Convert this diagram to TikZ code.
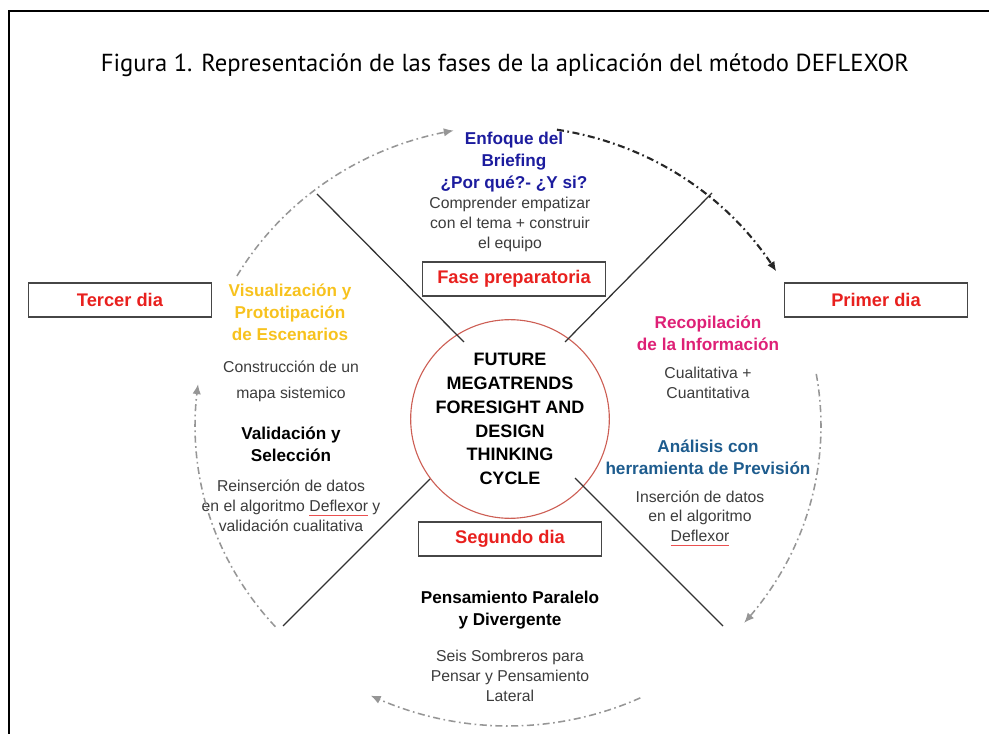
\documentclass[tikz,border=0pt]{standalone}
\usepackage{fontspec}
\setmainfont{Liberation Sans}
\newfontfamily\titlefont{PT Sans}
\usetikzlibrary{arrows.meta}
\definecolor{dayred}{RGB}{232,32,30}
\definecolor{boxgray}{RGB}{70,70,70}
\definecolor{linegray}{RGB}{50,50,50}
\definecolor{arcgray}{RGB}{150,150,150}
\definecolor{bodygray}{RGB}{60,60,60}
\definecolor{briefblue}{RGB}{28,28,158}
\definecolor{visyellow}{RGB}{247,194,30}
\definecolor{recopink}{RGB}{222,32,118}
\definecolor{analblue}{RGB}{30,92,142}
\definecolor{coreline}{RGB}{205,95,85}
\definecolor{spellred}{RGB}{235,80,80}
\newcommand{\spellmark}[1]{\setbox0\hbox{#1}\rlap{\color{spellred}\rule[-2.6pt]{\wd0}{0.6pt}}\box0\relax}
\begin{document}
\begin{tikzpicture}[x=0.025cm, y=-0.025cm,
		daybox/.style={draw=boxgray, line width=0.9pt, minimum width=4.575cm, minimum height=0.85cm, text=dayred, font=\fontsize{13}{15}\selectfont\bfseries},
		divider/.style={linegray, line width=0.9pt},
		cyclearc/.style={arcgray, line width=1.1pt, dash pattern=on 5pt off 2.5pt on 1.2pt off 2.5pt, -{Latex[length=7pt, width=6pt]}},
		body/.style={align=center, text=bodygray, font=\fontsize{11.2}{14.2}\selectfont, inner sep=0pt},
		head/.style={align=center, font=\fontsize{12.2}{15.6}\selectfont\bfseries, inner sep=0pt}]
	\useasboundingbox (0,0) rectangle (989,734);
	\draw[line width=1.3pt] (9,734) -- (9,11) -- (989,11);
	\node[font=\titlefont\fontsize{17.5}{20}\selectfont] (title) at (505,65) {Figura 1. Representación de las fases de la aplicación del método DEFLEXOR};
	% centre of the cycle
	\node[circle, draw=coreline, line width=0.8pt, minimum size=4.3cm, inner sep=0pt, align=center, font=\fontsize{12.8}{17}\selectfont\bfseries] (core) at (510,419) {FUTURE\\MEGATRENDS\\FORESIGHT AND\\DESIGN\\THINKING\\CYCLE};
	\coordinate (ulout) at (317,194);
	\coordinate (ulin) at (464,342);
	\coordinate (urout) at (712,193);
	\coordinate (urin) at (565,342);
	\coordinate (llout) at (283,626);
	\coordinate (llin) at (430,479);
	\coordinate (lrout) at (723,626);
	\coordinate (lrin) at (575,478);
	\draw[divider] (ulout) -- (ulin);
	\draw[divider] (urout) -- (urin);
	\draw[divider] (llout) -- (llin);
	\draw[divider] (lrout) -- (lrin);
	% day boxes
	\node[daybox] (prep) at (514,279) {Fase preparatoria};
	\node[daybox] (tercer) at (120,300) {Tercer dia};
	\node[daybox] (primer) at (876,300) {Primer dia};
	\node[daybox] (segundo) at (510,539) {Segundo dia};
	% phase texts
	\node[head, text=briefblue] (briefhead) at (514,162) {Enfoque del\\Briefing\\¿Por qué?- ¿Y si?};
	\node[body] (briefbody) at (510,224) {Comprender empatizar\\con el tema + construir\\el equipo};
	\node[head, text=visyellow] (vishead) at (290,312) {Visualización y\\Prototipación\\de Escenarios};
	\node[body, font=\fontsize{11.2}{18.4}\selectfont] (visbody) at (291,381) {Construcción de un\\mapa sistemico};
	\node[head, text=black] (valhead) at (291,444) {Validación y\\Selección};
	\node[body] (valbody) at (291,506) {Reinserción de datos\\en el algoritmo \spellmark{Deflexor} y\\validación cualitativa};
	\node[head, text=recopink] (recohead) at (708,333) {Recopilación\\de la Información};
	\node[body] (recobody) at (708,383) {Cualitativa +\\Cuantitativa};
	\node[head, text=analblue] (analhead) at (708,457) {Análisis con\\herramienta de Previsión};
	\node[body] (analbody) at (700,518) {Inserción de datos\\en el algoritmo\\\spellmark{Deflexor}};
	\node[head, text=black] (penshead) at (510,610) {Pensamiento Paralelo\\y Divergente};
	\node[body] (pensbody) at (510,676) {Seis Sombreros para\\Pensar y Pensamiento\\Lateral};
	% cycle arrows
	\draw[cyclearc] plot[smooth, samples=40, domain=210:260] ({508+313*cos(\x)}, {426+300*sin(\x)});
	\draw[cyclearc, black!85, line width=1.5pt] plot[smooth, samples=40, domain=279:329] ({508+313*cos(\x)}, {426+300*sin(\x)});
	\draw[cyclearc] plot[smooth, samples=40, domain=-10:41] ({508+313*cos(\x)}, {426+300*sin(\x)});
	\draw[cyclearc] plot[smooth, samples=40, domain=65:116] ({508+313*cos(\x)}, {426+300*sin(\x)});
	\draw[cyclearc] plot[smooth, samples=40, domain=138:188] ({508+313*cos(\x)}, {426+300*sin(\x)});
\end{tikzpicture}
\end{document}
